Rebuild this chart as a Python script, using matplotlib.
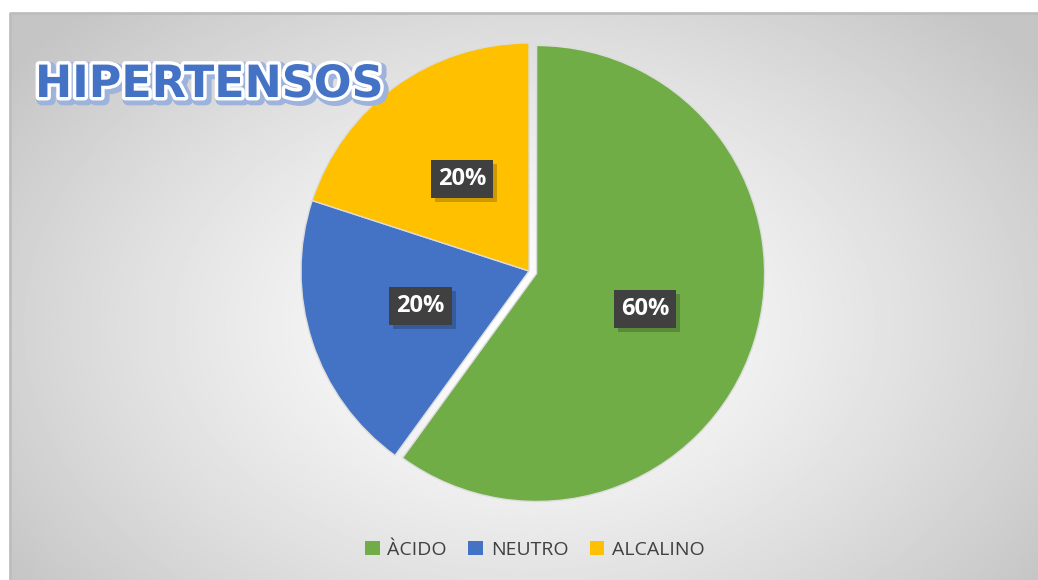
import numpy as np
import matplotlib
matplotlib.use("Agg")
import matplotlib.pyplot as plt
import matplotlib.patheffects as pe
from matplotlib.patches import Rectangle

# data
categories = ["ÀCIDO", "NEUTRO", "ALCALINO"]
shares = [60, 20, 20]
colors = ["#70AD47", "#4472C4", "#FFC000"]
title = "HIPERTENSOS"

W, H = 1038, 580
fig = plt.figure(figsize=(W / 100, H / 100), dpi=100)
fig.patch.set_facecolor("white")

# chart area background with radial gradient
bg = fig.add_axes([10 / W, 0, (W - 10) / W, (H - 13) / H])
bg.set_axis_off()
ny, nx = 300, 520
yy, xx = np.mgrid[0:ny, 0:nx]
cx, cy = nx * 0.50, ny * 0.55
d = np.sqrt(((xx - cx) / (nx * 0.62)) ** 2 + ((yy - cy) / (ny * 0.78)) ** 2)
shade = 1.0 - 0.23 * np.clip(d, 0, 1) ** 1.3
bg.imshow(shade, cmap="gray", vmin=0, vmax=1, aspect="auto", extent=(0, 1, 0, 1), origin="upper")
bg.set_xlim(0, 1)
bg.set_ylim(0, 1)
bg.plot([0, 0, 1], [0, 1, 1], color="#bdbdbd", linewidth=2, transform=bg.transAxes, clip_on=False)

# pie
R = 228
cxp, cyp = 529, 271
lim = 1.2
size = 2 * lim * R
ax = fig.add_axes([(cxp - size / 2) / W, (H - cyp - size / 2) / H, size / W, size / H])
ax.set_facecolor("none")
wedges, texts, autotexts = ax.pie(
    shares, colors=colors, startangle=90, counterclock=False,
    explode=[0.035, 0, 0], autopct="%1.0f%%", pctdistance=0.5,
    wedgeprops=dict(edgecolor="#dcdcdc", linewidth=1.0),
    textprops=dict(color="white", fontsize=17, fontweight="bold", family="Open Sans"),
)
ax.set_xlim(-lim, lim)
ax.set_ylim(-lim, lim)
ax.set_aspect("equal")
ax.set_axis_off()

for t in autotexts:
    t.set_bbox(dict(boxstyle="square,pad=0.3", facecolor="#404040", edgecolor="none",
                    linewidth=0))
    t.get_bbox_patch().set_path_effects([
        pe.SimplePatchShadow(offset=(3, -3), shadow_rgbFace="black", alpha=0.2),
        pe.Normal(),
    ])

# title
fig.text(35 / W, 1 - 97 / H, title, fontsize=32, fontweight="heavy", color="#4472C4",
         family="DejaVu Sans", va="baseline", ha="left",
         path_effects=[pe.Stroke(linewidth=8, foreground="#9db3dc", offset=(2, -2)),
                       pe.Stroke(linewidth=5, foreground="white"),
                       pe.Normal()])

# legend
handles = [Rectangle((0, 0), 1, 1, facecolor=c, edgecolor="none") for c in colors]
leg = fig.legend(handles, categories, loc="center", bbox_to_anchor=(535 / W, 1 - 550 / H),
                 ncol=3, frameon=False, handlelength=0.75, handleheight=0.75,
                 handletextpad=0.4, columnspacing=1.1,
                 prop=dict(family="Open Sans", size=14))
for t in leg.get_texts():
    t.set_color("#404040")

fig.savefig("out.png", dpi=100)
